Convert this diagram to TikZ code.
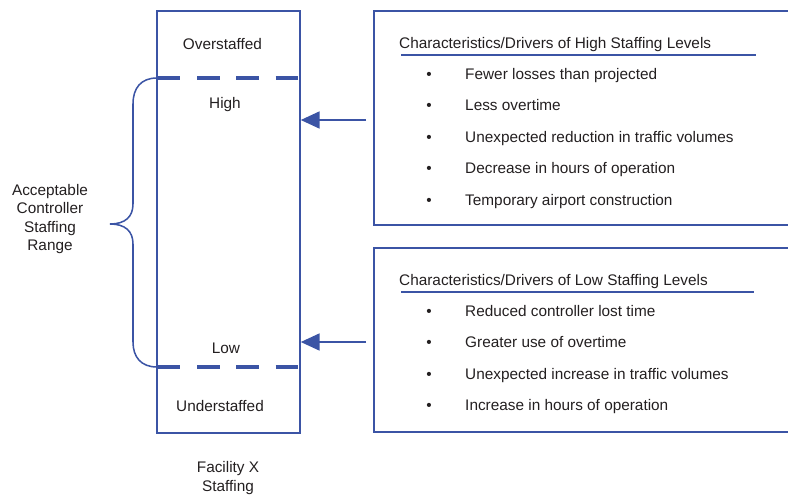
\documentclass[tikz,border=0pt]{standalone}
\usepackage{fontspec}
\setmainfont{Liberation Sans}
\usetikzlibrary{arrows.meta}
\definecolor{navy}{RGB}{59,84,165}
\definecolor{ink}{RGB}{35,31,32}

\begin{document}
\begin{tikzpicture}[x=0.03cm,y=-0.03cm,
    frame/.style={draw=navy,line width=1.3pt,inner sep=0pt},
    level/.style={draw=navy,line width=4.2pt,dash pattern=on 19pt off 14.5pt},
    txt/.style={font=\fontsize{13.1}{15.6}\selectfont,text=ink,inner sep=0pt,anchor=base},
    feed/.style={-{Triangle[length=16pt,width=14.5pt]},navy,line width=1.3pt},
  ]
    \useasboundingbox (0,0) rectangle (788,497);
    \clip (0,0) rectangle (788,497);
    % the staffing column with its two limits
    \node[frame,minimum width=4.29cm,minimum height=12.66cm] (facility) at (228.5,222) {};
    \draw[level] (158,78) -- (299,78);
    \draw[level] (158,367) -- (299,367);
    \node[txt] (over) at (222.5,49) {Overstaffed};
    \node[txt] (high) at (225,108) {High};
    \node[txt] (low) at (226,353) {Low};
    \node[txt] (under) at (220,411.5) {Understaffed};
    \node[txt,anchor=center,align=center] (caption) at (228,478) {Facility X\\Staffing};
    % brace over the acceptable band
    \draw[navy,line width=1.3pt] (157,78) .. controls (141,78) and (133,88) .. (133,104)
      -- (133,204) .. controls (133,217) and (125,224) .. (110,224)
      .. controls (125,224) and (133,231) .. (133,244)
      -- (133,342) .. controls (133,357) and (141,367) .. (157,367);
    \node[txt,anchor=center,align=center] (range) at (50,219) {Acceptable\\Controller\\Staffing\\Range};
    % drivers, high side
    \node[frame,minimum width=13.08cm,minimum height=6.42cm] (highbox) at (592,118) {};
    \node[txt,anchor=base west] (hihead) at (399,48) {Characteristics/Drivers of High Staffing Levels};
    \draw[navy,line width=1.7pt] (401,55) -- (756,55);
    \foreach \y/\item in {79/Fewer losses than projected,
                          110.5/Less overtime,
                          142/Unexpected reduction in traffic volumes,
                          173.5/Decrease in hours of operation,
                          205/Temporary airport construction} {
      \node[txt] at (429,\y) {\textbullet};
      \node[txt,anchor=base west] at (465,\y) {\item};
    }
    % drivers, low side
    \node[frame,minimum width=13.08cm,minimum height=5.52cm] (lowbox) at (592,340) {};
    \node[txt,anchor=base west] (lohead) at (399,285) {Characteristics/Drivers of Low Staffing Levels};
    \draw[navy,line width=1.7pt] (401,292) -- (754,292);
    \foreach \y/\item in {316.5/Reduced controller lost time,
                          347.5/Greater use of overtime,
                          379/Unexpected increase in traffic volumes,
                          410.5/Increase in hours of operation} {
      \node[txt] at (429,\y) {\textbullet};
      \node[txt,anchor=base west] at (465,\y) {\item};
    }
    \coordinate (hifeed) at (366,120);
    \coordinate (lofeed) at (366,342);
    \draw[feed] (hifeed) -- (facility.east |- hifeed);
    \draw[feed] (lofeed) -- (facility.east |- lofeed);
  \end{tikzpicture}
\end{document}
